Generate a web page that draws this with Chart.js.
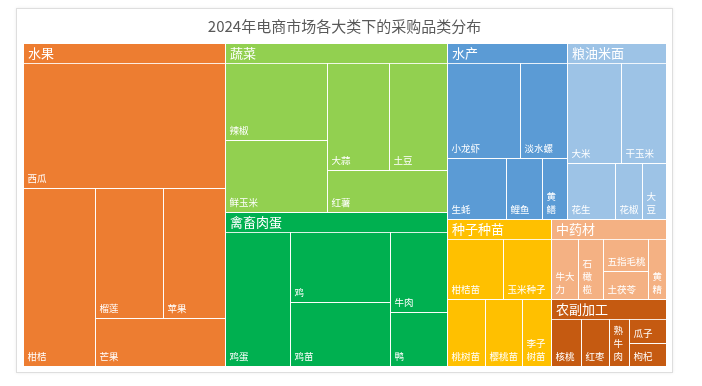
<!DOCTYPE html>
<html>
<head>
<meta charset="utf-8">
<script src="https://cdn.jsdelivr.net/npm/chart.js@4/dist/chart.umd.min.js"></script>
<style>
  body { margin: 0; background: #fff; }
  #card { position: absolute; left: 16px; top: 8px; width: 655px; height: 363px; border: 1px solid #dedede; box-shadow: 0 0 3px rgba(0,0,0,0.08); }
  #chart { position: absolute; left: 0; top: 0; }
</style>
</head>
<body>
<div id="card"></div>
<canvas id="chart" width="702" height="386"></canvas>
<script>
// --- data ---
const categories = ['水果', '蔬菜', '禽畜肉蛋', '水产', '粮油米面', '种子种苗', '中药材', '农副加工'];
const categoryColors = ['#ED7D31', '#92D050', '#00B050', '#5B9BD5', '#9DC3E6', '#FFC000', '#F4B183', '#C55A11'];

const fruitNames = ['西瓜', '柑桔', '榴莲', '苹果', '芒果'];
const fruitValues = [135, 68, 47, 43, 33];
const vegNames = ['辣椒', '鲜玉米', '大蒜', '土豆', '红薯'];
const vegValues = [44.5, 41.5, 37.5, 35, 28.5];
const meatNames = ['鸡蛋', '鸡', '鸡苗', '牛肉', '鸭'];
const meatValues = [50, 40, 36.5, 26.5, 18];
const aquaNames = ['小龙虾', '淡水螺', '生蚝', '鲤鱼', '黄鳝'];
const aquaValues = [39, 25.5, 20, 12.2, 8.5];
const grainNames = ['大米', '干玉米', '花生', '花椒', '大豆'];
const grainValues = [30, 25.4, 14.8, 8.5, 7.6];
const seedNames = ['柑桔苗', '玉米种子', '桃树苗', '樱桃苗', '李子树苗'];
const seedValues = [19.4, 16.7, 14.7, 14.3, 11.2];
const herbNames = ['牛大力', '石橄榄', '五指毛桃', '土茯苓', '黄精'];
const herbValues = [10.6, 10.2, 9.6, 8.4, 7.2];
const farmNames = ['核桃', '红枣', '熟牛肉', '瓜子', '枸杞'];
const farmValues = [10, 9.4, 6.7, 6.3, 6.1];

// how many items go into each strip of the treemap
const categoryStrips = [1, 2, 2, 1, 1, 1];
const childStrips = [[1, 1, 2, 1], [2, 2, 1], [1, 2, 1, 1], [2, 1, 1, 1], [2, 1, 2], [2, 1, 2], [1, 1, 2, 1], [1, 1, 1, 1, 1]];

const groups = [
  { names: fruitNames, values: fruitValues },
  { names: vegNames, values: vegValues },
  { names: meatNames, values: meatValues },
  { names: aquaNames, values: aquaValues },
  { names: grainNames, values: grainValues },
  { names: seedNames, values: seedValues },
  { names: herbNames, values: herbValues },
  { names: farmNames, values: farmValues }
];

const FONT = '"Noto Sans CJK SC", "Noto Sans", sans-serif';
const HEADER = 20;

// strips go along the short side of what is left
function stripLayout(values, rect, strips) {
  const out = [];
  let { x, y, w, h } = rect;
  let rest = values.reduce((a, b) => a + b, 0);
  let i = 0;
  strips.forEach(n => {
    const part = values.slice(i, i + n);
    const sum = part.reduce((a, b) => a + b, 0);
    if (w >= h) {
      const sw = w * sum / rest;
      let cy = y;
      part.forEach(v => {
        const ch = h * v / sum;
        out.push({ x, y: cy, w: sw, h: ch });
        cy += ch;
      });
      x += sw; w -= sw;
    } else {
      const sh = h * sum / rest;
      let cx = x;
      part.forEach(v => {
        const cw = w * v / sum;
        out.push({ x: cx, y, w: cw, h: sh });
        cx += cw;
      });
      y += sh; h -= sh;
    }
    rest -= sum;
    i += n;
  });
  return out;
}

function snap(r) {
  const x0 = Math.round(r.x), y0 = Math.round(r.y);
  const x1 = Math.round(r.x + r.w), y1 = Math.round(r.y + r.h);
  return { x: x0, y: y0, w: x1 - x0, h: y1 - y0 };
}

function wrapLabel(ctx, text, maxW) {
  const lines = [];
  let line = '';
  for (const ch of text) {
    if (line && ctx.measureText(line + ch).width > maxW + 0.01) {
      lines.push(line);
      line = ch;
    } else {
      line += ch;
    }
  }
  if (line) lines.push(line);
  return lines;
}

const treemapPlugin = {
  id: 'treemap',
  afterDatasetsDraw(chart) {
    const ctx = chart.ctx;
    const xs = chart.scales.x, ys = chart.scales.y;
    const area = { x: xs.getPixelForValue(0), y: ys.getPixelForValue(0) };
    area.w = xs.getPixelForValue(1) - area.x;
    area.h = ys.getPixelForValue(1) - area.y;

    const totals = groups.map(g => g.values.reduce((a, b) => a + b, 0));
    const parentRects = stripLayout(totals, area, categoryStrips);

    ctx.save();
    parentRects.forEach((pr, gi) => {
      const g = groups[gi];
      const p = snap(pr);
      ctx.fillStyle = categoryColors[gi];
      ctx.fillRect(p.x, p.y, p.w, p.h);

      const inner = { x: pr.x, y: pr.y + HEADER, w: pr.w, h: pr.h - HEADER };
      const kids = stripLayout(g.values, inner, childStrips[gi]);

      ctx.strokeStyle = 'rgba(255,255,255,0.85)';
      ctx.lineWidth = 1;
      kids.forEach((kr, ki) => {
        const k = snap(kr);
        ctx.strokeRect(k.x + 0.5, k.y + 0.5, k.w, k.h);

        ctx.fillStyle = '#ffffff';
        ctx.font = `9.5px ${FONT}`;
        ctx.textBaseline = 'middle';
        ctx.textAlign = 'left';
        const lines = wrapLabel(ctx, g.names[ki], k.w - 6.8);
        const lh = 13.3;
        let ty = k.y + k.h - 9.5 - (lines.length - 1) * lh;
        lines.forEach(l => {
          ctx.fillText(l, k.x + 4.5, ty);
          ty += lh;
        });
      });
      ctx.strokeStyle = '#ffffff';
      ctx.strokeRect(p.x + 0.5, p.y + 0.5, p.w, p.h);

      ctx.fillStyle = '#ffffff';
      ctx.font = `13px ${FONT}`;
      ctx.textBaseline = 'middle';
      ctx.fillText(categories[gi], p.x + 5, p.y + 10.5);
    });
    ctx.restore();
  }
};

new Chart(document.getElementById('chart'), {
  type: 'scatter',
  data: { datasets: [{ data: [] }] },
  options: {
    responsive: false,
    animation: false,
    events: [],
    layout: { padding: { left: 23, right: 36, top: 0, bottom: 20 } },
    plugins: {
      legend: { display: false },
      tooltip: { enabled: false },
      title: {
        display: true,
        text: '2024年电商市场各大类下的采购品类分布',
        color: '#595959',
        font: { size: 15, family: FONT, weight: 'normal', lineHeight: 1.2 },
        padding: { top: 17.5, bottom: 7.5 }
      }
    },
    scales: {
      x: { display: false, min: 0, max: 1 },
      y: { display: false, min: 0, max: 1, reverse: true }
    }
  },
  plugins: [treemapPlugin]
});
</script>
</body>
</html>
